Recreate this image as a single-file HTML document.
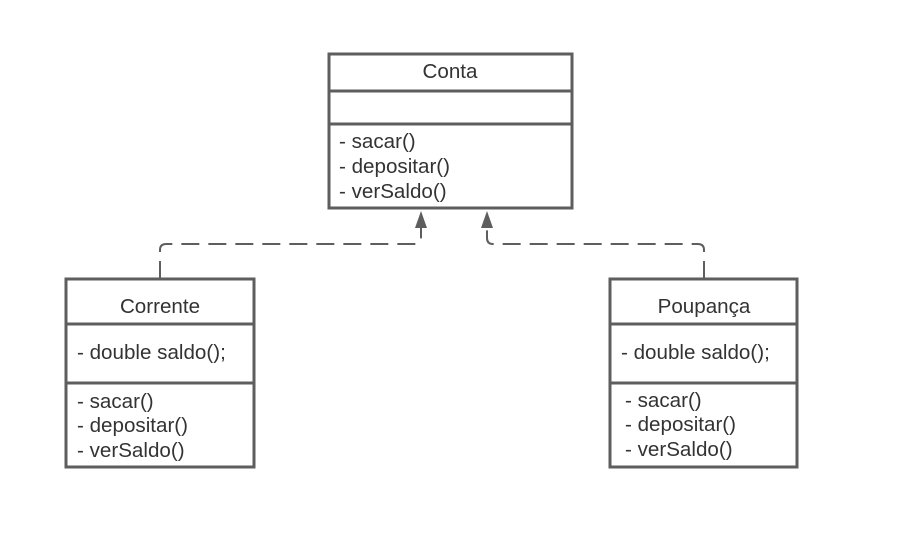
<!DOCTYPE html>
<html><head><style>
body{margin:0;background:#fff;width:902px;height:536px;overflow:hidden}
svg text{font-family:"Liberation Sans",sans-serif;font-size:20.6px;fill:#333}
</style></head><body>
<svg width="902" height="536" xmlns="http://www.w3.org/2000/svg">
<g fill="none" stroke="#5e5e5e" stroke-width="2" stroke-dasharray="18,9">
<path d="M160 279 V250 Q160 244 166 244 H415 Q421 244 421 238 V226"/>
<path d="M704 279 V250 Q704 244 698 244 H493 Q487 244 487 238 V226"/>
</g>
<g fill="#5e5e5e">
<polygon points="421,211 415,228 427,228"/>
<polygon points="487,211 481,228 493,228"/>
</g>
<g fill="#fff" stroke="#5e5e5e" stroke-width="3">
<rect x="329" y="54" width="243" height="154"/>
<line x1="329" y1="91" x2="572" y2="91"/>
<line x1="329" y1="124" x2="572" y2="124"/>
<rect x="66" y="279" width="188" height="188"/>
<line x1="66" y1="324" x2="254" y2="324"/>
<line x1="66" y1="383" x2="254" y2="383"/>
<rect x="610" y="279" width="187" height="188"/>
<line x1="610" y1="324" x2="797" y2="324"/>
<line x1="610" y1="383" x2="797" y2="383"/>
</g>
<text x="450" y="78" text-anchor="middle">Conta</text>
<text x="339" y="148">- sacar()</text>
<text x="339" y="173">- depositar()</text>
<text x="339" y="198">- verSaldo()</text>
<text x="160" y="313" text-anchor="middle">Corrente</text>
<text x="77" y="359">- double saldo();</text>
<text x="77" y="408">- sacar()</text>
<text x="77" y="432">- depositar()</text>
<text x="77" y="457">- verSaldo()</text>
<text x="704" y="313" text-anchor="middle">Poupança</text>
<text x="621" y="359">- double saldo();</text>
<text x="625" y="407">- sacar()</text>
<text x="625" y="431">- depositar()</text>
<text x="625" y="456">- verSaldo()</text>
</svg>
</body></html>
